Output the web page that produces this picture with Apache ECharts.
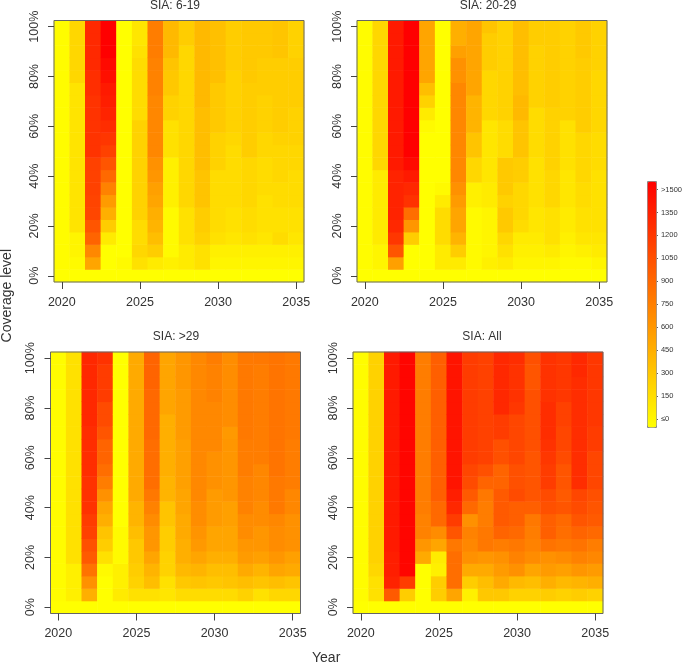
<!DOCTYPE html>
<html><head><meta charset="utf-8">
<style>html,body{margin:0;padding:0;background:#fff}#c{width:685px;height:664px;filter:blur(0.45px)}</style>
<script src="https://cdn.jsdelivr.net/npm/echarts@6/dist/echarts.min.js"></script>
</head><body><div id="c"></div>
<script>
const years=['2020','2021','2022','2023','2024','2025','2026','2027','2028','2029','2030','2031','2032','2033','2034','2035'];
const coverage=['0%','5%','10%','15%','20%','25%','30%','35%','40%','45%','50%','55%','60%','65%','70%','75%','80%','85%','90%','95%','100%'];
const legendTicks=['≤0','150','300','450','600','750','900','1050','1200','1350','>1500'];
const panelTitles=['SIA: 6-19','SIA: 20-29','SIA: >29','SIA: All'];
// each inner list: one year, coverage 0% .. 100%
const sia619=[
[0,20,20,20,20,20,20,20,20,20,20,20,20,20,20,20,20,20,20,20,20],
[0,30,60,60,160,160,160,160,160,160,160,160,160,160,160,160,235,235,235,235,235],
[0,530,700,910,1000,1090,1100,1120,1120,1120,1200,1200,1200,1200,1200,1230,1230,1260,1260,1260,1260],
[0,0,0,120,300,470,590,735,880,1000,1120,1180,1235,1290,1325,1350,1410,1440,1500,1500,1500],
[0,30,0,0,0,0,0,0,0,0,0,0,0,0,0,0,0,0,0,0,0],
[0,175,235,205,205,265,265,265,265,265,265,265,265,205,205,205,205,205,175,145,145],
[0,120,295,380,440,470,530,560,620,650,705,705,705,705,705,735,735,735,765,765,765],
[0,90,30,30,30,30,90,90,90,90,175,175,175,265,265,325,325,350,410,410,410],
[0,120,120,175,175,175,235,235,235,235,235,235,235,235,235,235,235,235,235,295,295],
[0,175,175,265,295,295,350,350,350,380,380,380,380,380,410,410,410,410,410,410,410],
[0,60,90,175,205,205,205,205,205,265,265,265,320,320,320,320,370,370,370,370,370],
[0,60,90,150,175,175,205,205,205,205,205,235,265,265,265,265,265,295,295,295,295],
[0,60,90,175,205,205,235,235,235,235,295,295,295,295,295,295,320,320,320,320,320],
[0,60,90,145,175,175,175,205,205,205,235,235,265,265,265,295,295,295,320,320,320],
[0,60,90,205,175,175,205,205,235,235,235,265,295,295,295,295,295,295,340,340,340],
[0,60,90,145,175,175,205,205,205,235,235,265,265,265,295,295,295,295,265,265,265]];
const sia2029=[
[0,20,20,20,20,20,20,20,20,20,20,20,20,20,20,20,20,20,20,20,20],
[0,60,60,120,120,120,120,120,120,235,235,235,235,235,235,235,235,235,235,235,235],
[0,560,1000,1175,1265,1295,1295,1295,1295,1350,1350,1350,1350,1350,1350,1350,1350,1350,1350,1350,1350],
[0,0,0,295,620,855,1205,1265,1350,1440,1500,1500,1500,1500,1500,1500,1500,1500,1500,1500,1500],
[0,0,0,0,0,0,0,0,0,0,0,0,30,120,265,380,530,530,530,530,530],
[0,120,120,205,205,205,120,30,0,0,0,0,0,0,0,0,0,0,0,0,0],
[0,120,295,440,530,530,590,650,705,705,705,705,705,705,705,705,650,650,560,470,470],
[0,30,30,30,30,30,90,90,235,235,350,350,440,440,440,530,530,530,530,530,530],
[0,90,60,60,60,60,120,120,145,145,145,145,145,235,235,235,235,295,295,295,350],
[0,120,175,235,320,320,265,320,320,320,205,205,205,265,265,265,265,265,265,265,265],
[0,60,90,120,205,235,235,235,295,295,350,350,350,410,410,380,380,380,380,380,380],
[0,60,90,120,145,145,175,175,175,175,205,205,205,205,265,265,265,265,265,295,295],
[0,60,120,175,175,175,235,235,235,265,265,265,265,265,295,295,295,295,295,295,295],
[0,30,60,90,120,120,150,150,150,175,175,175,175,265,265,265,265,265,265,265,265],
[0,30,90,145,175,175,205,205,235,235,235,235,295,295,295,295,295,295,320,320,320],
[0,60,120,145,175,175,175,175,175,205,205,205,235,235,235,235,235,265,265,265,265]];
const siaOver29=[
[0,20,20,20,20,20,20,20,20,20,20,20,20,20,20,20,20,20,20,20,20],
[0,90,90,90,175,175,175,175,175,175,175,175,175,175,175,175,175,175,175,175,175],
[0,470,650,825,970,1030,1120,1145,1205,1205,1205,1235,1235,1235,1235,1265,1265,1265,1265,1265,1265],
[0,0,0,30,175,295,350,470,530,650,765,855,910,910,1000,1060,1060,1145,1145,1145,1205],
[0,120,90,90,30,30,30,0,0,0,0,0,0,0,0,0,0,0,0,0,0],
[0,175,265,295,325,325,380,440,440,500,500,500,500,500,500,500,500,500,500,500,500],
[0,175,380,440,530,620,620,675,735,795,855,855,855,855,880,880,880,880,910,910,910],
[0,145,175,265,265,295,295,350,350,440,440,470,470,470,470,470,530,530,530,530,530],
[0,205,325,410,470,470,500,500,530,530,560,560,560,560,590,590,590,590,620,620,620],
[0,205,350,440,530,600,630,670,670,700,700,700,700,700,700,700,700,700,700,700,700],
[0,205,325,380,470,530,530,590,590,590,650,650,650,700,700,700,700,735,735,735,765],
[0,205,350,380,470,530,530,560,560,620,620,620,620,620,600,670,670,670,670,670,670],
[0,265,380,500,590,620,675,675,735,735,735,765,765,765,790,790,790,790,790,790,790],
[0,175,350,440,560,620,620,675,675,705,705,705,765,765,765,765,765,765,765,765,795],
[0,235,380,530,620,675,675,705,790,790,790,820,820,820,820,820,820,820,820,820,820],
[0,235,350,500,560,650,650,650,705,705,765,765,765,765,790,790,790,790,790,790,790]];
const siaAll=[
[0,20,20,20,20,20,20,20,20,20,20,20,20,20,20,20,20,20,20,20,20],
[0,175,175,235,265,265,265,265,265,265,265,265,265,265,265,265,265,265,265,265,265],
[0,970,1295,1325,1325,1350,1350,1350,1350,1350,1350,1350,1350,1350,1350,1350,1350,1350,1350,1350,1350],
[0,295,1145,1470,1470,1470,1470,1470,1470,1470,1470,1470,1470,1470,1470,1470,1470,1470,1470,1470,1470],
[0,0,0,0,500,620,735,735,765,765,765,765,765,765,765,765,765,765,765,765,765],
[0,295,295,90,120,530,675,880,880,940,940,940,940,940,940,940,940,940,940,940,940],
[0,530,855,855,855,795,1000,1145,1265,1325,1380,1380,1380,1380,1380,1380,1380,1380,1380,1380,1380],
[0,90,295,500,650,705,735,650,880,970,1060,1090,1145,1145,1145,1145,1145,1145,1145,1145,1145],
[0,325,380,500,620,795,795,765,765,795,910,1030,1120,1120,1120,1120,1120,1120,1120,1120,1120],
[0,325,500,590,650,765,910,970,970,970,910,910,1030,1030,1145,1145,1265,1265,1265,1265,1265],
[0,265,410,650,735,795,880,940,940,1060,1030,1030,1090,1090,1090,1090,1175,1205,1205,1205,1235],
[0,265,380,530,675,735,765,795,940,1000,1000,1000,1000,1030,1030,1030,1030,1030,1000,1000,1030],
[0,295,470,590,650,825,940,940,1030,1060,1145,1145,1175,1205,1235,1235,1235,1205,1205,1205,1205],
[0,265,410,560,675,795,855,880,1000,970,1000,1000,1060,1090,1090,1120,1120,1175,1175,1175,1175],
[0,295,440,620,735,825,910,1000,1060,1090,1235,1235,1235,1235,1235,1235,1235,1235,1235,1265,1265],
[0,265,470,590,705,765,880,970,1000,1030,1090,1090,1090,1145,1145,1175,1175,1175,1175,1175,1175]];
const panels=[sia619,sia2029,siaOver29,siaAll];
const gridBoxes=[{left:54,top:20.5,width:250,height:261.5},{left:357,top:20.5,width:250,height:261.5},{left:50.5,top:352,width:250,height:261.5},{left:353,top:352,width:250,height:261.5}];
const titleX=[175,488,176,482], titleY=[6,6,337,337];
const font='"Liberation Sans", Arial, sans-serif';
const ink='#333';
const chart=echarts.init(document.getElementById('c'),null,{renderer:'canvas'});
const option={animation:false,backgroundColor:'#fff',
 title:panels.map((_,i)=>({text:panelTitles[i],left:titleX[i],top:titleY[i],textAlign:'center',textVerticalAlign:'middle',padding:0,
   textStyle:{fontFamily:font,fontSize:12,fontWeight:'normal',color:ink}})),
 grid:[...gridBoxes.map(g=>({...g,show:true,borderColor:'#666',borderWidth:1,backgroundColor:'transparent',z:5})),
   {left:640,top:189.5,width:16,height:229.5,show:false}],
 xAxis:[...panels.map((_,i)=>({type:'category',gridIndex:i,data:years,z:6,
   axisLine:{show:false},axisTick:{show:true,alignWithLabel:true,interval:4,length:7,lineStyle:{color:'#444',width:1}},
   axisLabel:{interval:4,margin:14,fontFamily:font,fontSize:12.5,color:ink},splitLine:{show:false}})),
   {type:'value',gridIndex:4,show:false,min:0,max:1}],
 yAxis:[...panels.map((_,i)=>({type:'category',gridIndex:i,data:coverage,z:6,
   axisLine:{show:false},axisTick:{show:true,alignWithLabel:true,interval:3,length:6,lineStyle:{color:'#444',width:1}},
   axisLabel:{interval:3,rotate:90,margin:13,fontFamily:font,fontSize:12.5,color:ink},splitLine:{show:false}})),
   {type:'value',gridIndex:4,position:'right',min:0,max:1500,interval:150,
    axisLine:{show:false,onZero:false},axisTick:{show:true,length:6,lineStyle:{color:'#555',width:1}},splitLine:{show:false},
    axisLabel:{margin:9,fontFamily:font,fontSize:7.5,color:ink,formatter:(v)=>legendTicks[Math.round(v/150)]}}],
 visualMap:{type:'continuous',min:0,max:1500,seriesIndex:[0,1,2,3],calculable:false,realtime:false,hoverLink:false,
   left:647,top:181,itemWidth:9,itemHeight:246,padding:0,text:null,showLabel:false,borderColor:'#888',borderWidth:1,
   inRange:{color:['#ffff00','#ff0000']}},
 series:panels.map((p,i)=>({type:'heatmap',xAxisIndex:i,yAxisIndex:i,z:2,progressive:0,
   data:p.flatMap((col,x)=>col.map((v,y)=>[x,y,v])),itemStyle:{borderWidth:0}})),
 graphic:[
  {type:'text',left:0,top:249,rotation:Math.PI/2,z:10,style:{text:'Coverage level',fontFamily:font,fontSize:14,fill:ink}},
  {type:'text',left:312,top:651,z:10,style:{text:'Year',fontFamily:font,fontSize:14,fill:ink}}
 ]};
chart.setOption(option);
</script></body></html>
